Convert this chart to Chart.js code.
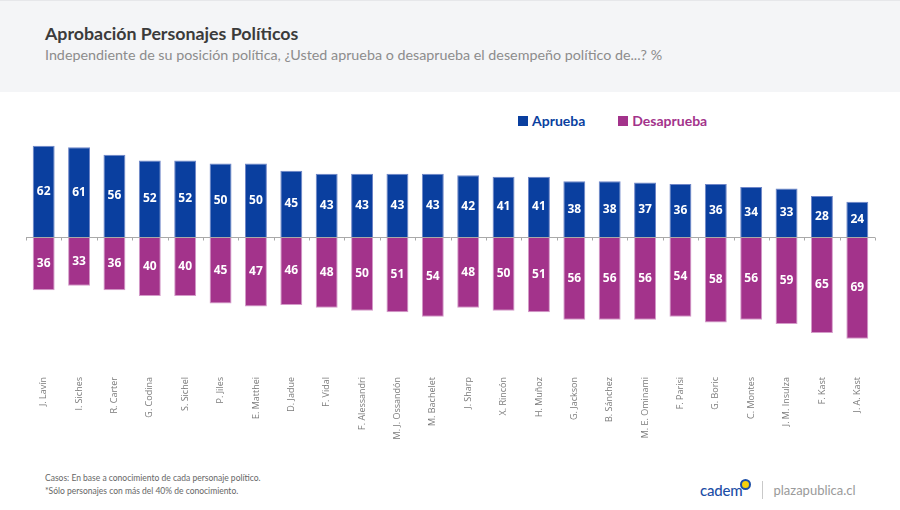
<!DOCTYPE html>
<html lang="es">
<head>
<meta charset="utf-8">
<title>Aprobación Personajes Políticos</title>
<script src="https://cdn.jsdelivr.net/npm/chart.js@4"></script>
<style>
  html, body { margin: 0; padding: 0; background: #fff; }
  body { width: 900px; height: 510px; position: relative; overflow: hidden; font-family: Lato, "Open Sans", sans-serif; }
  .header { position: absolute; left: 0; top: 0; width: 900px; height: 92px; background: #f4f5f7; border-top: 1px solid #e6e7ea; box-sizing: border-box; }
  .title { position: absolute; left: 45px; top: 21px; font-size: 17.8px; font-weight: 700; color: #3b3b3b; }
  .subtitle { position: absolute; left: 45px; top: 45px; font-size: 14.3px; color: #8c8c8c; }
  .legend { position: absolute; top: 112px; left: 518px; font-size: 14px; font-weight: 700; display: flex; gap: 33px; }
  .legend span { display: flex; align-items: center; }
  .legend i { display: inline-block; width: 10px; height: 10px; margin-right: 4px; }
  .chart-box { position: absolute; left: 0; top: 100px; width: 900px; height: 360px; }
  .foot { position: absolute; left: 45px; top: 472px; font-size: 8.5px; color: #666; line-height: 13px; }
  .brand { position: absolute; left: 700px; top: 480px; display: flex; align-items: center; height: 20px; }
  .cadem { font-size: 15px; color: #1c4ea6; font-weight: 500; letter-spacing: -0.2px; position: relative; }
  .dot { position: absolute; right: -9px; top: -2px; width: 7px; height: 7px; border-radius: 50%; border: 2px solid #1c4ea6; background: #f5d10c; }
  .sep { width: 1px; height: 18px; background: #c9c9c9; margin: 0 10px 0 20px; }
  .plaza { font-size: 13px; color: #9a9a9a; }
</style>
</head>
<body>
<div class="header">
  <div class="title">Aprobación Personajes Políticos</div>
  <div class="subtitle">Independiente de su posición política, ¿Usted aprueba o desaprueba el desempeño político de...? %</div>
</div>
<div class="legend">
  <span style="color:#0a3f9f"><i style="background:#0a3f9f"></i>Aprueba</span>
  <span style="color:#a3338b"><i style="background:#a3338b"></i>Desaprueba</span>
</div>
<div class="chart-box"><canvas id="chart"></canvas></div>
<div class="foot">
  Casos: En base a conocimiento de cada personaje político.<br>
  *Sólo personajes con más del 40% de conocimiento.
</div>
<div class="brand">
  <span class="cadem">cadem<span class="dot"></span></span>
  <span class="sep"></span>
  <span class="plaza">plazapublica.cl</span>
</div>

<script>
// ---- data ----
const names = [
  'J. Lavín', 'I. Siches', 'R. Carter', 'G. Codina', 'S. Sichel', 'P. Jiles',
  'E. Matthei', 'D. Jadue', 'F. Vidal', 'F. Alessandri', 'M. J. Ossandón', 'M. Bachelet',
  'J. Sharp', 'X. Rincón', 'H. Muñoz', 'G. Jackson', 'B. Sánchez', 'M. E. Ominami',
  'F. Parisi', 'G. Boric', 'C. Montes', 'J. M. Insulza', 'F. Kast', 'J. A. Kast'
];
const aprueba = [62, 61, 56, 52, 52, 50, 50, 45, 43, 43, 43, 43, 42, 41, 41, 38, 38, 37, 36, 36, 34, 33, 28, 24];
const desaprueba = [36, 33, 36, 40, 40, 45, 47, 46, 48, 50, 51, 54, 48, 50, 51, 56, 56, 56, 54, 58, 56, 59, 65, 69];

const blue = '#0a3f9f';
const magenta = '#a3338b';

// zero line with small ticks between categories
const zeroLine = {
  id: 'zeroLine',
  afterDatasetsDraw(chart) {
    const { ctx, scales: { x, y } } = chart;
    const y0 = Math.round(y.getPixelForValue(0)) + 0.5;
    const step = (x.right - x.left) / names.length;
    ctx.save();
    ctx.strokeStyle = '#a9a9a9';
    ctx.lineWidth = 1;
    ctx.beginPath();
    ctx.moveTo(x.left, y0);
    ctx.lineTo(x.right, y0);
    for (let i = 0; i <= names.length; i++) {
      const px = Math.round(x.left + i * step) + 0.5;
      ctx.moveTo(px, y0);
      ctx.lineTo(px, y0 + 3);
    }
    ctx.stroke();
    ctx.restore();
  }
};

// white numbers centred in each bar
const barValues = {
  id: 'barValues',
  afterDatasetsDraw(chart) {
    const { ctx } = chart;
    ctx.save();
    ctx.fillStyle = '#fff';
    ctx.font = 'bold 12px "Open Sans", sans-serif';
    ctx.textAlign = 'center';
    ctx.textBaseline = 'middle';
    chart.data.datasets.forEach((ds, i) => {
      chart.getDatasetMeta(i).data.forEach((bar, j) => {
        const mid = (bar.y + bar.base) / 2;
        ctx.fillText(Math.abs(ds.data[j]), bar.x, mid);
      });
    });
    ctx.restore();
  }
};

new Chart(document.getElementById('chart'), {
  type: 'bar',
  data: {
    labels: names,
    datasets: [
      { label: 'Aprueba', data: aprueba, backgroundColor: blue, borderColor: '#6f86c8', borderWidth: 1 },
      { label: 'Desaprueba', data: desaprueba.map(v => -v), backgroundColor: magenta, borderColor: '#d49bc9', borderWidth: 1 }
    ]
  },
  options: {
    responsive: true,
    maintainAspectRatio: false,
    animation: false,
    layout: { padding: { top: 34, left: 26, right: 25, bottom: 0 } },
    datasets: { bar: { categoryPercentage: 1, barPercentage: 0.62 } },
    plugins: { legend: { display: false }, tooltip: { enabled: false } },
    scales: {
      x: {
        stacked: true,
        grid: { display: false },
        border: { display: false },
        ticks: {
          minRotation: 90, maxRotation: 90, padding: 14, autoSkip: false,
          color: '#7b7b7b', font: { family: '"Open Sans", sans-serif', size: 9 }
        },
        afterFit: s => { s.height = 105; }
      },
      y: {
        stacked: true,
        display: false,
        min: -80,
        max: 70
      }
    }
  },
  plugins: [zeroLine, barValues]
});
</script>
</body>
</html>
